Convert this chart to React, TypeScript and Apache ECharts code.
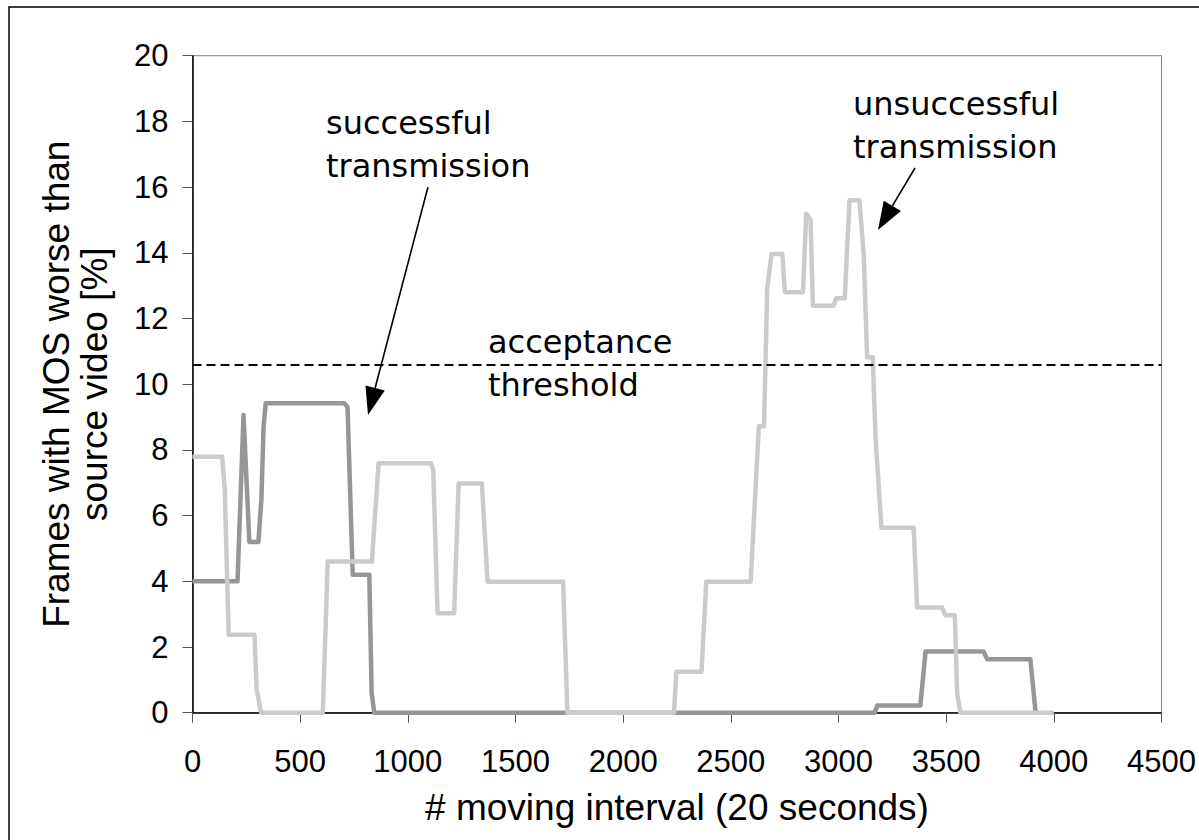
import React, { useEffect, useRef } from "react";
import * as echarts from "echarts";

// successful transmission (dark grey)
const successX = [0, 209, 237, 264, 306, 320, 330, 340, 705, 720, 744, 821, 832, 844, 3168, 3180, 3380, 3404, 3674, 3690, 3891, 3914, 3920];
const successY = [4.0, 4.0, 9.06, 5.2, 5.2, 6.5, 8.7, 9.42, 9.42, 9.3, 4.2, 4.2, 0.6, 0, 0, 0.22, 0.22, 1.86, 1.86, 1.63, 1.63, 0.08, 0];

// unsuccessful transmission (light grey)
const failX = [0, 138, 150, 168, 288, 298, 319, 605, 628, 833, 864, 1107, 1118, 1138, 1215, 1236, 1344, 1370, 1721, 1741, 2236, 2247, 2364, 2386, 2592, 2630, 2654, 2669, 2689, 2739, 2751, 2835, 2850, 2870, 2881, 2978, 2989, 3029, 3051, 3097, 3117, 3133, 3159, 3172, 3199, 3349, 3365, 3481, 3496, 3540, 3551, 3566, 4000];
const failY = [7.79, 7.79, 6.78, 2.37, 2.37, 0.69, 0, 0, 4.6, 4.6, 7.59, 7.59, 7.39, 3.03, 3.03, 6.98, 6.98, 3.99, 3.99, 0, 0, 1.25, 1.25, 3.99, 3.99, 8.72, 8.72, 12.92, 13.96, 13.96, 12.8, 12.8, 15.19, 15.01, 12.39, 12.39, 12.62, 12.62, 15.6, 15.6, 13.96, 10.82, 10.82, 8.37, 5.63, 5.63, 3.2, 3.2, 2.97, 2.97, 0.59, 0, 0];

const threshold = 10.6;

const xTicks = { min: 0, max: 4500, interval: 500 };
const yTicks = { min: 0, max: 20, interval: 2 };

const xTitle = "# moving interval (20 seconds)";
const yTitle = "Frames with MOS worse than\nsource video [%]";

function arrow(x1: number, y1: number, x2: number, y2: number, headLen = 28, headW = 20) {
  const dx = x2 - x1;
  const dy = y2 - y1;
  const len = Math.sqrt(dx * dx + dy * dy);
  const ux = dx / len;
  const uy = dy / len;
  const bx = x2 - ux * headLen;
  const by = y2 - uy * headLen;
  const px = -uy;
  const py = ux;
  return [
    {
      type: "line",
      shape: { x1, y1, x2: bx, y2: by },
      style: { stroke: "#000", lineWidth: 1.6 },
      z: 10,
    },
    {
      type: "polygon",
      shape: {
        points: [
          [x2, y2],
          [bx + (px * headW) / 2, by + (py * headW) / 2],
          [bx - (px * headW) / 2, by - (py * headW) / 2],
        ],
      },
      style: { fill: "#000" },
      z: 10,
    },
  ];
}

function label(text: string, x: number, y: number) {
  return {
    type: "text",
    x,
    y,
    z: 10,
    style: {
      text,
      fill: "#000",
      fontSize: 32,
      fontFamily: "'DejaVu Sans', Verdana, sans-serif",
      verticalAlign: "middle",
      align: "left",
    },
  };
}

export default function App() {
  const ref = useRef<HTMLDivElement>(null);
  useEffect(() => {
    document.body.style.margin = "0";
    if (!ref.current) return;
    const chart = echarts.init(ref.current, undefined, { renderer: "svg" });
    const tickFont = "'Liberation Sans', Arial, sans-serif";
    chart.setOption({
      animation: false,
      backgroundColor: "#fff",
      grid: {
        left: 192.5,
        right: 36.5,
        top: 55.7,
        bottom: 127.3,
        show: true,
        borderColor: "#808080",
        borderWidth: 1,
        backgroundColor: "transparent",
      },
      xAxis: {
        type: "value",
        ...xTicks,
        name: xTitle,
        nameLocation: "middle",
        nameGap: 76,
        nameTextStyle: { fontSize: 37, fontFamily: tickFont, color: "#000" },
        axisLine: { show: true, onZero: false, lineStyle: { color: "#000", width: 1.5 } },
        axisTick: { show: true, length: 10, lineStyle: { color: "#555", width: 1 } },
        axisLabel: {
          fontSize: 31,
          fontFamily: tickFont,
          color: "#000",
          margin: 33,
          formatter: (v: number) => String(v),
        },
        splitLine: { show: false },
      },
      yAxis: {
        type: "value",
        ...yTicks,
        name: yTitle,
        nameLocation: "middle",
        nameGap: 79,
        nameTextStyle: { fontSize: 37, fontFamily: tickFont, color: "#000", lineHeight: 38 },
        axisLine: { show: true, lineStyle: { color: "#000", width: 1.5 } },
        axisTick: { show: true, length: 10, lineStyle: { color: "#555", width: 1 } },
        axisLabel: {
          fontSize: 31,
          fontFamily: tickFont,
          color: "#000",
          margin: 24,
          formatter: (v: number) => String(v),
        },
        splitLine: { show: false },
      },
      series: [
        {
          name: "successful transmission",
          type: "line",
          data: successX.map((x, i) => [x, successY[i]]),
          showSymbol: false,
          symbol: "none",
          lineStyle: { color: "#969696", width: 4.5, join: "round" },
          z: 2,
          markLine: {
            silent: true,
            symbol: ["none", "none"],
            label: { show: false },
            lineStyle: { color: "#000", type: [9, 5], width: 2 },
            data: [{ yAxis: threshold }],
            z: 5,
          },
        },
        {
          name: "unsuccessful transmission",
          type: "line",
          data: failX.map((x, i) => [x, failY[i]]),
          showSymbol: false,
          symbol: "none",
          lineStyle: { color: "#cbcbcb", width: 4.5, join: "round" },
          z: 3,
        },
      ],
      graphic: [
        {
          type: "rect",
          shape: { x: 9, y: 7, width: 1400, height: 1000 },
          style: { fill: "none", stroke: "#000", lineWidth: 1.5 },
          silent: true,
          z: 0,
        },
        label("successful", 326, 123),
        label("transmission", 326, 166),
        label("unsuccessful", 853, 104),
        label("transmission", 853, 147),
        label("acceptance", 488, 342),
        label("threshold", 488, 385),
        ...arrow(428, 187, 368, 415),
        ...arrow(915, 168, 878, 230),
      ],
    });
    return () => chart.dispose();
  }, []);
  return <div ref={ref} style={{ width: 1199, height: 840 }} />;
}
